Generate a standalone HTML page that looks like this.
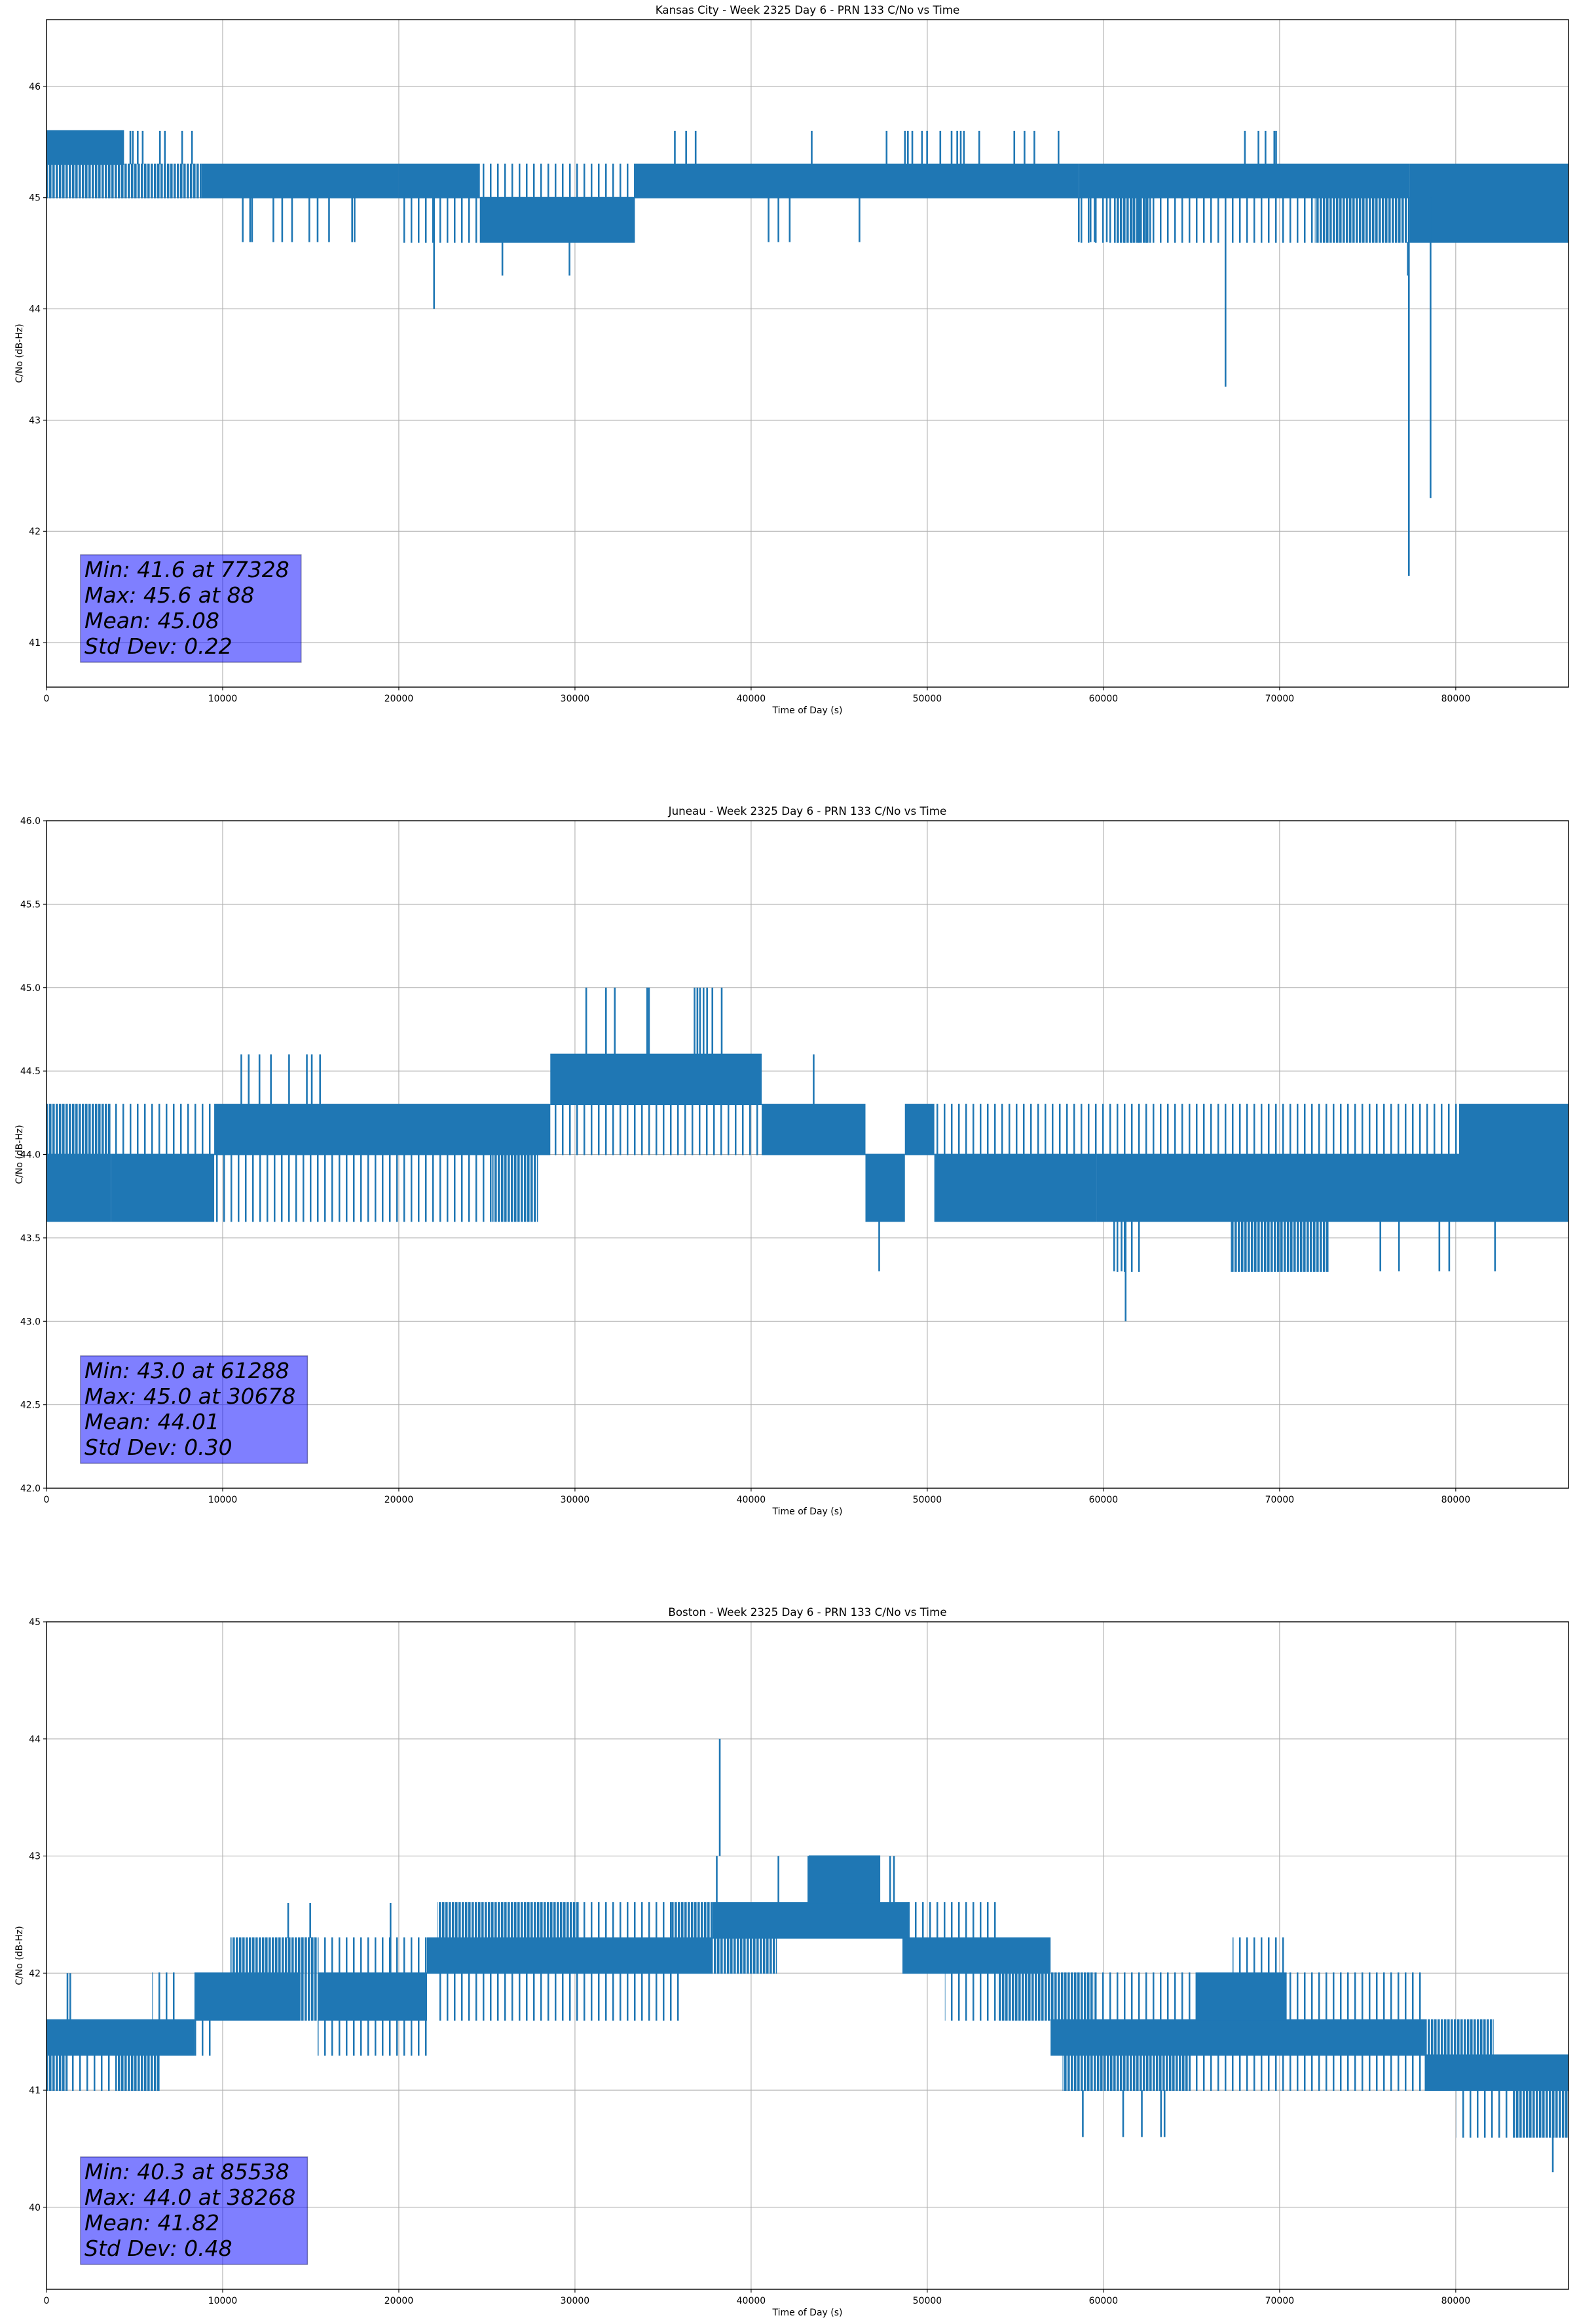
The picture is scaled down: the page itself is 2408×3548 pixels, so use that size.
<!DOCTYPE html>
<html><head><meta charset="utf-8">
<style>
html,body{margin:0;padding:0;background:#fff;}
svg{display:block;font-family:"DejaVu Sans","Liberation Sans",sans-serif;}
</style></head>
<body>
<svg id="fig" width="2408" height="3548" viewBox="0 0 2408 3548" xmlns="http://www.w3.org/2000/svg">
<defs>
<pattern id="pm" patternUnits="userSpaceOnUse" width="5" height="10"><rect x="0" y="0" width="3.6" height="10" fill="#1f77b4"/></pattern>
<pattern id="ps" patternUnits="userSpaceOnUse" width="11" height="10"><rect x="0" y="0" width="2.5" height="10" fill="#1f77b4"/></pattern>
</defs>
</svg>
<script>
// ---------- Kansas City data ----------
const kcSegT0 = [0, 0, 4400, 8800, 20000, 20000, 24600, 24600, 33400, 58600, 58600, 60600, 72000, 77400, 77400];
const kcSegT1 = [4400, 4400, 8800, 20000, 24600, 24600, 33400, 33400, 58600, 77400, 72000, 62700, 77400, 86400, 86400];
const kcSegLo = [45.3, 45.0, 45.0, 45.0, 45.0, 44.6, 44.6, 45.0, 45.0, 45.0, 44.6, 44.6, 44.6, 44.6, 45.0];
const kcSegHi = [45.6, 45.3, 45.3, 45.3, 45.3, 45.0, 45.0, 45.3, 45.3, 45.3, 45.0, 45.0, 45.0, 45.0, 45.3];
const kcSegFill = ['d', 'm', 'm', 'd', 'd', 's', 'd', 's', 'd', 'd', 's', 'm', 'm', 'd', 'd'];
const kcSpikeT = [4760, 4900, 5180, 5460, 6440, 6720, 7700, 8260, 35670, 36310, 36850, 43440, 47690, 48730, 48900, 49150, 49700, 49990, 50740, 51380, 51700, 51900, 52080, 52950, 54940, 55520, 56080, 57450, 68030, 68800, 69200, 69700, 69800,
  11140, 11560, 11670, 12880, 13380, 13940, 14920, 15390, 16040, 17350, 17490, 40990, 41550, 42190, 46150, 58600, 59270, 59500, 60190,
  22000, 25880, 29690, 66930, 77340, 78570, 77280];
const kcSpikeFrom = [45.3, 45.3, 45.3, 45.3, 45.3, 45.3, 45.3, 45.3, 45.3, 45.3, 45.3, 45.3, 45.3, 45.3, 45.3, 45.3, 45.3, 45.3, 45.3, 45.3, 45.3, 45.3, 45.3, 45.3, 45.3, 45.3, 45.3, 45.3, 45.3, 45.3, 45.3, 45.3, 45.3,
  45.0, 45.0, 45.0, 45.0, 45.0, 45.0, 45.0, 45.0, 45.0, 45.0, 45.0, 45.0, 45.0, 45.0, 45.0, 45.0, 45.0, 45.0, 45.0,
  45.0, 44.6, 44.6, 45.0, 45.0, 45.0, 44.6];
const kcSpikeTo = [45.6, 45.6, 45.6, 45.6, 45.6, 45.6, 45.6, 45.6, 45.6, 45.6, 45.6, 45.6, 45.6, 45.6, 45.6, 45.6, 45.6, 45.6, 45.6, 45.6, 45.6, 45.6, 45.6, 45.6, 45.6, 45.6, 45.6, 45.6, 45.6, 45.6, 45.6, 45.6, 45.6,
  44.6, 44.6, 44.6, 44.6, 44.6, 44.6, 44.6, 44.6, 44.6, 44.6, 44.6, 44.6, 44.6, 44.6, 44.6, 44.6, 44.6, 44.6, 44.6,
  44.0, 44.3, 44.3, 43.3, 41.6, 42.3, 44.3];
const kcYTicks = [41, 42, 43, 44, 45, 46];
const kcStats = ["Min: 41.6 at 77328", "Max: 45.6 at 88", "Mean: 45.08", "Std Dev: 0.22"];

// ---------- Juneau data ----------
const juSegT0 = [0, 0, 3650, 3650, 9520, 9520, 25300, 28600, 28600, 40600, 46490, 48730, 50400, 50400, 59630, 59630, 80190, 67190, 60500];
const juSegT1 = [3650, 3650, 9520, 9520, 28600, 25300, 27900, 40600, 40600, 46490, 48730, 50400, 59630, 59630, 86400, 80190, 86400, 72780, 62200];
const juSegLo = [43.6, 44.0, 43.6, 44.0, 44.0, 43.6, 43.6, 44.3, 44.0, 44.0, 43.6, 44.0, 43.6, 44.0, 43.6, 44.0, 44.0, 43.3, 43.3];
const juSegHi = [44.0, 44.3, 44.0, 44.3, 44.3, 44.0, 44.0, 44.6, 44.3, 44.3, 44.0, 44.3, 44.0, 44.3, 44.0, 44.3, 44.3, 43.6, 43.6];
const juSegFill = ['d', 'm', 'd', 's', 'd', 's', 'm', 'd', 's', 'd', 'd', 'd', 'd', 's', 'd', 's', 'd', 'm', 's'];
const juSpikeT = [11060, 11480, 12090, 12740, 13770, 14780, 15060, 15530, 30640, 31760, 32260, 34100, 34200, 36790, 36950, 37100, 37300, 37500, 37800, 38330, 43550, 47270, 61260, 60610, 61030, 75720, 76780, 79070, 79630, 82230];
const juSpikeFrom = [44.3, 44.3, 44.3, 44.3, 44.3, 44.3, 44.3, 44.3, 44.6, 44.6, 44.6, 44.6, 44.6, 44.6, 44.6, 44.6, 44.6, 44.6, 44.6, 44.6, 44.3, 43.6, 43.6, 43.6, 43.6, 43.6, 43.6, 43.6, 43.6, 43.6];
const juSpikeTo = [44.6, 44.6, 44.6, 44.6, 44.6, 44.6, 44.6, 44.6, 45.0, 45.0, 45.0, 45.0, 45.0, 45.0, 45.0, 45.0, 45.0, 45.0, 45.0, 45.0, 44.6, 43.3, 43.0, 43.3, 43.3, 43.3, 43.3, 43.3, 43.3, 43.3];
const juYTicks = [42.0, 42.5, 43.0, 43.5, 44.0, 44.5, 45.0, 45.5, 46.0];
const juStats = ["Min: 43.0 at 61288", "Max: 45.0 at 30678", "Mean: 44.01", "Std Dev: 0.30"];

// ---------- Boston data ----------
const boSegT0 = [0, 0, 1200, 4000, 6000, 8400, 10440, 8400, 14420, 14420, 15390, 15390, 15390, 21600, 22190, 30270, 35480, 22000, 37800, 37800, 43270, 48590, 48590, 51000, 54000, 57000, 59500, 65230, 70400, 67330, 57680, 64950, 78240, 78240, 80050, 83270];
const boSegT1 = [8400, 1200, 4000, 6440, 7300, 14420, 15250, 9500, 15390, 15390, 21600, 21600, 21600, 37800, 30270, 35480, 37800, 36000, 49000, 41460, 47330, 57000, 54180, 54000, 59500, 78240, 65230, 70400, 78240, 70400, 64950, 78240, 86400, 82150, 83270, 86400];
const boSegLo = [41.3, 41.0, 41.0, 41.0, 41.6, 41.6, 42.0, 41.3, 41.6, 42.0, 41.6, 42.0, 41.3, 42.0, 42.3, 42.3, 42.3, 41.6, 42.3, 42.0, 42.6, 42.0, 42.3, 41.6, 41.6, 41.3, 41.6, 41.6, 41.6, 42.0, 41.0, 41.0, 41.0, 41.3, 40.6, 40.6];
const boSegHi = [41.6, 41.3, 41.3, 41.3, 42.0, 42.0, 42.3, 41.6, 42.0, 42.3, 42.0, 42.3, 41.6, 42.3, 42.6, 42.6, 42.6, 42.0, 42.6, 42.3, 43.0, 42.3, 42.6, 42.0, 42.0, 41.6, 42.0, 42.0, 42.0, 42.3, 41.3, 41.3, 41.3, 41.6, 41.0, 41.0];
const boSegFill = ['d', 'm', 's', 'm', 's', 'd', 'm', 's', 'm', 'm', 'd', 's', 's', 'd', 'm', 's', 'm', 's', 'd', 'm', 'd', 'd', 's', 's', 'm', 'd', 's', 'd', 's', 's', 'm', 's', 'd', 'm', 's', 'm'];
const boSpikeT = [1190, 1350, 13720, 14970, 19530, 38050, 41550, 43250, 47890, 48110, 38220, 58830, 61120, 62180, 63270, 63470, 85510];
const boSpikeFrom = [41.6, 41.6, 42.3, 42.3, 42.0, 42.6, 42.6, 42.6, 42.6, 42.6, 43.0, 41.0, 41.0, 41.0, 41.0, 41.0, 40.6];
const boSpikeTo = [42.0, 42.0, 42.6, 42.6, 42.6, 43.0, 43.0, 43.0, 43.0, 43.0, 44.0, 40.6, 40.6, 40.6, 40.6, 40.6, 40.3];
const boYTicks = [40, 41, 42, 43, 44, 45];
const boStats = ["Min: 40.3 at 85538", "Max: 44.0 at 38268", "Mean: 41.82", "Std Dev: 0.48"];

const xTicks = [0, 10000, 20000, 30000, 40000, 50000, 60000, 70000, 80000];

const NS = "http://www.w3.org/2000/svg";
const svg = document.getElementById('fig');
const AX_L = 71, AX_R = 2395, XMAX = 86400;
function xs(t){ return AX_L + t * (AX_R - AX_L) / XMAX; }
function mk(tag, attrs, parent){
  const e = document.createElementNS(NS, tag);
  for (const k in attrs) e.setAttribute(k, attrs[k]);
  (parent || svg).appendChild(e);
  return e;
}

function drawChart(cfg){
  const top = cfg.top, bot = cfg.top + 1019;
  const ys = v => top + (cfg.ymax - v) * (bot - top) / (cfg.ymax - cfg.ymin);
  const g = mk('g', {});
  
  
  const cp = mk('clipPath', {id: 'clip-' + cfg.name}, g);
  mk('rect', {x: AX_L, y: top, width: AX_R - AX_L, height: bot - top}, cp);
  const grid = mk('g', {stroke: '#b0b0b0', 'stroke-width': 1.1}, g);
  
  
  xTicks.forEach(t => {
    const l = mk('line', {x1: xs(t), x2: xs(t), y1: top, y2: bot}, grid);
    
    
  });
  cfg.yticks.forEach(v => {
    const l = mk('line', {x1: AX_L, x2: AX_R, y1: ys(v), y2: ys(v)}, grid);
    
    
  });
  const ser = mk('g', {'clip-path': 'url(#clip-' + cfg.name + ')'}, g);
  
  
  for (let i = 0; i < cfg.t0.length; i++){
    const f = cfg.fill[i] === 'd' ? '#1f77b4' : (cfg.fill[i] === 'm' ? 'url(#pm)' : 'url(#ps)');
    const y1 = ys(cfg.hi[i]), y2 = ys(cfg.lo[i]);
    const r = mk('rect', {x: xs(cfg.t0[i]), y: y1 - 1, width: Math.max(1, xs(cfg.t1[i]) - xs(cfg.t0[i])), height: y2 - y1 + 2, fill: f}, ser);
    
    
  }
  for (let i = 0; i < cfg.st.length; i++){
    const l = mk('line', {x1: xs(cfg.st[i]), x2: xs(cfg.st[i]), y1: ys(cfg.sf[i]), y2: ys(cfg.sto[i]), stroke: '#1f77b4', 'stroke-width': 2.6}, ser);
    
    
  }
  const fr = mk('rect', {x: AX_L, y: top, width: AX_R - AX_L, height: bot - top, fill: 'none', stroke: '#000', 'stroke-width': 1.4}, g);
  
  
  xTicks.forEach(t => {
    mk('line', {x1: xs(t), x2: xs(t), y1: bot, y2: bot + 5, stroke: '#000', 'stroke-width': 1.1}, g);
    const tx = mk('text', {x: xs(t), y: bot + 22, 'font-size': 14, 'text-anchor': 'middle', fill: '#000'}, g);
    tx.textContent = String(t);
    
    
  });
  cfg.yticks.forEach(v => {
    mk('line', {x1: AX_L - 5, x2: AX_L, y1: ys(v), y2: ys(v), stroke: '#000', 'stroke-width': 1.1}, g);
    const tx = mk('text', {x: AX_L - 9, y: ys(v) + 5, 'font-size': 14, 'text-anchor': 'end', fill: '#000'}, g);
    tx.textContent = cfg.ylabfmt(v);
    
    
  });
  const tt = mk('text', {x: (AX_L + AX_R) / 2, y: top - 9, 'font-size': 16.7, 'text-anchor': 'middle', fill: '#000'}, g);
  tt.textContent = cfg.title;
  
  
  const xl = mk('text', {x: (AX_L + AX_R) / 2, y: bot + 40, 'font-size': 14, 'text-anchor': 'middle', fill: '#000'}, g);
  xl.textContent = 'Time of Day (s)';
  
  
  const yc = (top + bot) / 2;
  const yl = mk('text', {x: 34, y: yc, 'font-size': 14, 'text-anchor': 'middle', fill: '#000', transform: 'rotate(-90 34 ' + yc + ')'}, g);
  yl.textContent = 'C/No (dB-Hz)';
  
  
  const sb = mk('g', {}, g);
  
  
  const boxBottom = bot - 38, boxTop = boxBottom - 164;
  const rect = mk('rect', {x: 123, y: boxTop, width: 340, height: 164, fill: 'rgba(0,0,255,0.5)', stroke: 'rgba(0,0,80,0.45)', 'stroke-width': 1.5}, sb);
  let maxW = 0;
  cfg.stats.forEach((s, i) => {
    const tx = mk('text', {x: 129, y: boxTop + 34 + i * 39, 'font-size': 33, 'font-style': 'italic', fill: '#000'}, sb);
    tx.textContent = s;
    
    
    try { maxW = Math.max(maxW, tx.getComputedTextLength()); } catch(e){}
  });
  if (maxW > 0) rect.setAttribute('width', maxW + 24);
}

drawChart({name: 'kansas-city', top: 30, ymin: 40.6, ymax: 46.6, yticks: kcYTicks, ylabfmt: v => String(v),
  title: 'Kansas City - Week 2325 Day 6 - PRN 133 C/No vs Time',
  t0: kcSegT0, t1: kcSegT1, lo: kcSegLo, hi: kcSegHi, fill: kcSegFill,
  st: kcSpikeT, sf: kcSpikeFrom, sto: kcSpikeTo, stats: kcStats});
drawChart({name: 'juneau', top: 1253, ymin: 42.0, ymax: 46.0, yticks: juYTicks, ylabfmt: v => v.toFixed(1),
  title: 'Juneau - Week 2325 Day 6 - PRN 133 C/No vs Time',
  t0: juSegT0, t1: juSegT1, lo: juSegLo, hi: juSegHi, fill: juSegFill,
  st: juSpikeT, sf: juSpikeFrom, sto: juSpikeTo, stats: juStats});
drawChart({name: 'boston', top: 2476, ymin: 39.3, ymax: 45.0, yticks: boYTicks, ylabfmt: v => String(v),
  title: 'Boston - Week 2325 Day 6 - PRN 133 C/No vs Time',
  t0: boSegT0, t1: boSegT1, lo: boSegLo, hi: boSegHi, fill: boSegFill,
  st: boSpikeT, sf: boSpikeFrom, sto: boSpikeTo, stats: boStats});
</script>
</body></html>
